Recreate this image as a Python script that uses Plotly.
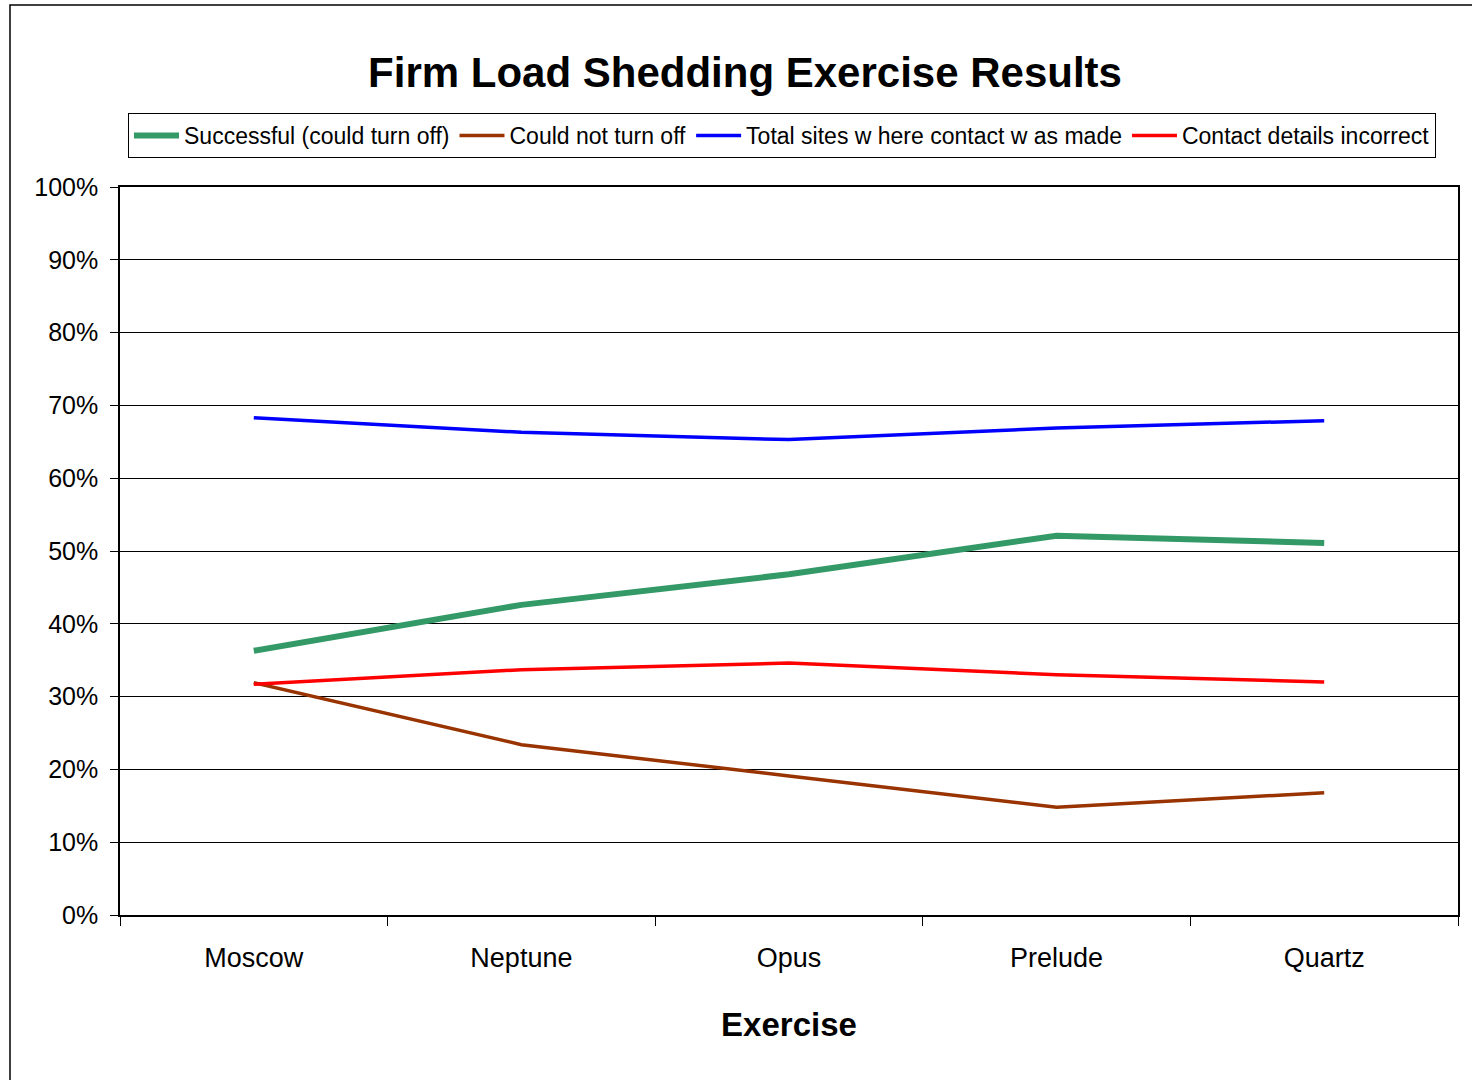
import plotly.graph_objects as go

exercises = ["Moscow", "Neptune", "Opus", "Prelude", "Quartz"]
successful = [36.3, 42.6, 46.8, 52.1, 51.1]
could_not = [31.9, 23.4, 19.1, 14.8, 16.8]
total_contact = [68.3, 66.3, 65.3, 66.9, 67.9]
details_incorrect = [31.7, 33.7, 34.6, 33.0, 32.0]

series = [
    ("Successful (could turn off)", successful, "#339966", 6),
    ("Could not turn off", could_not, "#993300", 3.5),
    ("Total sites w here contact w as made", total_contact, "#0000FF", 3.5),
    ("Contact details incorrect", details_incorrect, "#FF0000", 3.5),
]

font_family = "Liberation Sans, Arial, sans-serif"

fig = go.Figure()
for name, vals, color, w in series:
    fig.add_trace(go.Scatter(
        x=exercises, y=vals, name=name, mode="lines",
        line=dict(color=color, width=w),
    ))

fig.update_layout(
    width=1472, height=1080,
    margin=dict(l=120, r=14, t=187, b=165),
    paper_bgcolor="white", plot_bgcolor="white",
    showlegend=True,
    title=dict(
        text="<b>Firm Load Shedding Exercise Results</b>",
        x=745 / 1472, xanchor="center", y=1 - 72 / 1080, yanchor="middle",
        font=dict(family=font_family, size=42, color="black"),
    ),
    legend=dict(
        orientation="h", x=(128 - 120) / 1338, xanchor="left",
        y=(915 - 113) / 728, yanchor="top",
        bordercolor="black", borderwidth=1, bgcolor="white",
        font=dict(family=font_family, size=23, color="black"),
        itemwidth=45, tracegroupgap=0,
    ),
    xaxis=dict(
        type="category", range=[-0.5, 4.5],
        showline=True, linecolor="black", linewidth=1.5, mirror=True,
        ticks="outside", tickson="boundaries", ticklen=9, tickcolor="black",
        showgrid=False, ticklabelstandoff=18,
        tickfont=dict(family=font_family, size=27, color="black"),
        title=dict(text="<b>Exercise</b>", font=dict(family=font_family, size=33, color="black"), standoff=41),
    ),
    yaxis=dict(
        range=[0, 100], dtick=10, ticksuffix="%",
        showline=True, linecolor="black", linewidth=1.5, mirror=True,
        ticks="outside", ticklen=8, tickcolor="black",
        showgrid=True, gridcolor="black", gridwidth=1,
        zeroline=False, ticklabelstandoff=7,
        tickfont=dict(family=font_family, size=25, color="black"),
    ),
)

# outer chart frame
fig.add_shape(type="rect", xref="paper", yref="paper",
              x0=(10 - 120) / 1338, x1=(1490 - 120) / 1338,
              y0=(915 - 1100) / 728, y1=(915 - 5) / 728,
              line=dict(color="black", width=1.5), layer="below")

fig.write_html("out.html")
